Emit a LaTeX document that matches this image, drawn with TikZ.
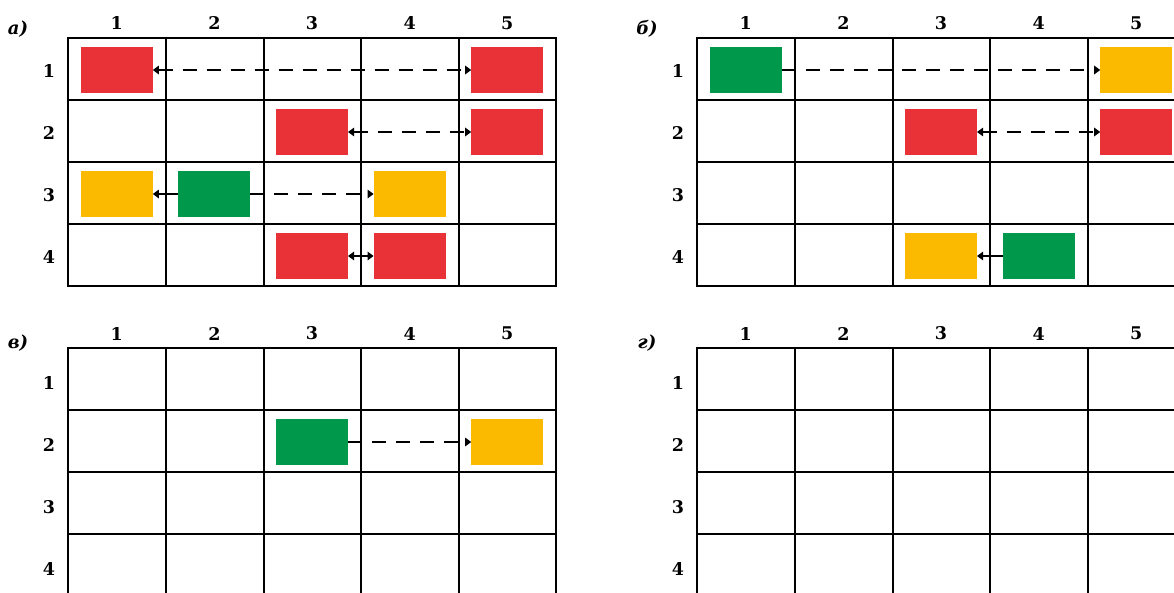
\documentclass[tikz,border=0pt]{standalone}
\usepackage{fontspec}
\setmainfont{DejaVu Serif}
\usetikzlibrary{arrows.meta}
\definecolor{cred}{HTML}{E83237}
\definecolor{cgreen}{HTML}{00984A}
\definecolor{cyellow}{HTML}{FBB900}
\tikzset{
  gridline/.style={line width=1.8pt, black},
  box/.style={minimum width=72pt, minimum height=46pt, inner sep=0pt, outer sep=0pt, draw=none},
  lbl/.style={font=\fontsize{17.5}{21}\selectfont\bfseries, inner sep=0pt},
  panel/.style={font=\fontsize{18}{21}\selectfont\bfseries\itshape, inner sep=0pt},
  link/.style={line width=1.2pt, >={Triangle[length=6pt,width=8.5pt]}},
  linkdash/.style={link, dash pattern=on 14pt off 10pt},
}
\newcommand\cbox[6]{\node[box,fill=#6] (#1) at ({#2+97.6*(#4-0.5)},{#3+62*(#5-1)+32}) {};}
\begin{document}
\begin{tikzpicture}[x=1pt,y=-1pt]
\useasboundingbox (0,0) rectangle (1174,592);
\clip (0,0) rectangle (1174,592);
% grids
\foreach \gx/\gy/\g/\off in {68/38/a/2, 697/38/b/2, 68/348/c/4, 697/348/d/4}{
  \draw[gridline] (\gx,\gy) rectangle ({\gx+488},{\gy+248});
  \foreach \dx in {98,196,293,391}{
    \draw[gridline] ({\gx+\dx},\gy) -- ({\gx+\dx},{\gy+248});
  }
  \foreach \j in {1,2,3}{
    \draw[gridline] (\gx,{\gy+62*\j}) -- ({\gx+488},{\gy+62*\j});
  }
  \foreach \i in {1,...,5}{
    \node[lbl] (col-\g-\i) at ({\gx+97.6*(\i-0.5)},{\gy-14.5}) {\i};
  }
  \foreach \j in {1,...,4}{
    \node[lbl] (row-\g-\j) at ({\gx-19},{\gy+62*(\j-0.5)+\off}) {\j};
  }
}
% panel labels
\node[panel] (pa) at (18,29) {а)};
\node[panel] (pb) at (647,29) {б)};
\node[panel] (pc) at (18,343) {в)};
\node[panel] (pd) at (647,343) {г)};
% boxes a
\cbox{a11}{68}{38}{1}{1}{cred}
\cbox{a15}{68}{38}{5}{1}{cred}
\cbox{a23}{68}{38}{3}{2}{cred}
\cbox{a25}{68}{38}{5}{2}{cred}
\cbox{a31}{68}{38}{1}{3}{cyellow}
\cbox{a32}{68}{38}{2}{3}{cgreen}
\cbox{a34}{68}{38}{4}{3}{cyellow}
\cbox{a43}{68}{38}{3}{4}{cred}
\cbox{a44}{68}{38}{4}{4}{cred}
% boxes b
\cbox{b11}{697}{38}{1}{1}{cgreen}
\cbox{b15}{697}{38}{5}{1}{cyellow}
\cbox{b23}{697}{38}{3}{2}{cred}
\cbox{b25}{697}{38}{5}{2}{cred}
\cbox{b43}{697}{38}{3}{4}{cyellow}
\cbox{b44}{697}{38}{4}{4}{cgreen}
% boxes c
\cbox{c23}{68}{348}{3}{2}{cgreen}
\cbox{c25}{68}{348}{5}{2}{cyellow}
% links a
\draw[linkdash,<->] (a11.east) -- (a15.west);
\draw[linkdash,<->] (a23.east) -- (a25.west);
\draw[link,->] (a32.west) -- (a31.east);
\draw[linkdash,->] (a32.east) -- (a34.west);
\draw[link,<->] (a43.east) -- (a44.west);
% links b
\draw[linkdash,->] (b11.east) -- (b15.west);
\draw[linkdash,<->] (b23.east) -- (b25.west);
\draw[link,->] (b44.west) -- (b43.east);
% links c
\draw[linkdash,->] (c23.east) -- (c25.west);
\end{tikzpicture}
\end{document}
